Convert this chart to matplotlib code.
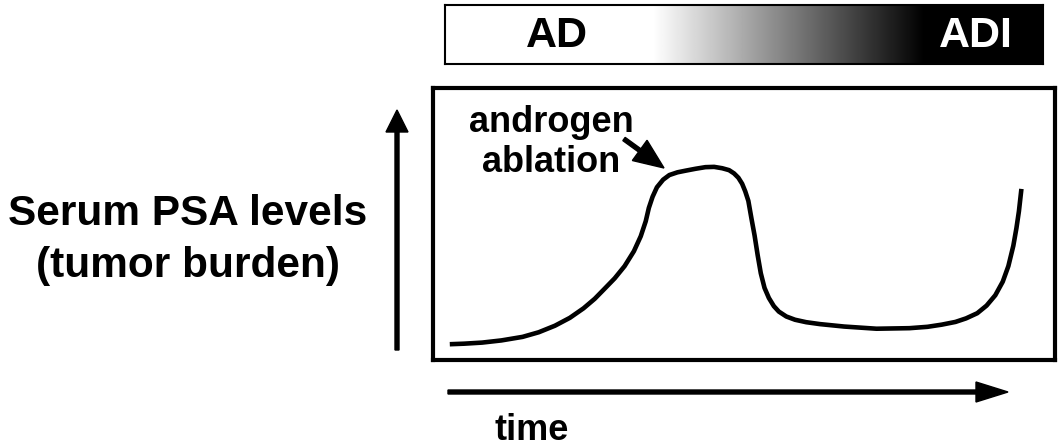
import numpy as np
import matplotlib
matplotlib.use("Agg")
import matplotlib.pyplot as plt

plt.rcParams["font.family"] = ["Liberation Sans", "DejaVu Sans"]
plt.rcParams["font.weight"] = "bold"

# curve: time (0-100 across the box) vs PSA level (0-100)
time_pts = [2.7, 5.0, 7.9, 11.0, 14.4, 17.0, 19.6, 22.0, 24.2, 26.0, 27.5,
            29.2, 30.8, 32.3, 33.4, 34.2, 34.7, 35.3, 36.0, 37.0, 38.0, 39.3,
            40.6, 42.2, 43.8, 45.2, 46.5, 47.6, 48.4, 49.1, 49.7, 50.2, 50.7,
            51.2, 51.7, 52.2, 52.7, 53.3, 54.0, 54.8, 55.6, 56.8, 58.2, 60.0,
            62.2, 66.1, 71.3, 76.6, 79.5, 81.8, 84.0, 85.7, 87.5, 89.0, 90.4,
            91.6, 92.5, 93.3, 93.8, 94.2, 94.6]
psa_pts = [5.8, 6.0, 6.4, 7.2, 8.5, 10.2, 12.6, 15.5, 19.0, 22.5, 26.0,
           30.0, 34.5, 40.0, 45.5, 51.0, 55.9, 60.0, 63.5, 66.3, 68.0, 69.0,
           69.6, 70.3, 70.9, 71.0, 70.5, 69.8, 68.6, 67.0, 64.8, 62.0, 58.5,
           52.0, 45.8, 38.5, 31.9, 26.5, 22.8, 19.8, 17.8, 16.0, 14.8, 13.9,
           13.2, 12.3, 11.5, 11.7, 12.2, 13.0, 14.0, 15.3, 17.2, 20.0, 23.8,
           28.8, 34.5, 42.0, 48.5, 54.7, 62.9]

stages = ["AD", "ADI"]
stage_pos = [0.187, 0.888]
stage_colors = ["black", "white"]
grad_start, grad_end = 0.348, 0.803

W, H = 1060, 448
fig = plt.figure(figsize=(W / 100, H / 100), dpi=100)


def axes_px(x0, y0, x1, y1):
    return fig.add_axes([x0 / W, 1 - y1 / H, (x1 - x0) / W, (y1 - y0) / H])


# AD -> ADI bar
bar = axes_px(445, 5, 1043, 64)
xs = np.linspace(0, 1, 600)
grad = np.clip((xs - grad_start) / (grad_end - grad_start), 0, 1)
bar.imshow(grad[None, :], cmap="gray_r", vmin=0, vmax=1, aspect="auto",
           extent=[0, 1, 0, 1], interpolation="bilinear")
bar.set_xlim(0, 1)
bar.set_ylim(0, 1)
bar.set_xticks([])
bar.set_yticks([])
for s in bar.spines.values():
    s.set_linewidth(1.5)
for name, pos, c in zip(stages, stage_pos, stage_colors):
    bar.text(pos, 0.47, name, color=c, fontsize=31, fontweight="bold",
             ha="center", va="center")

# main box with the PSA curve
ax = axes_px(433, 88, 1055, 360)
ax.plot(time_pts, psa_pts, color="black", lw=3.3, solid_joinstyle="round",
        solid_capstyle="butt")
ax.set_xlim(0, 100)
ax.set_ylim(0, 100)
ax.set_xticks([])
ax.set_yticks([])
for s in ax.spines.values():
    s.set_linewidth(3)

ax.text(19.0, 80, "androgen\nablation", fontsize=26, fontweight="bold",
        ha="center", va="center", linespacing=1.2)

# overlay in pixel units for arrows and labels, drawn on top
over = fig.add_axes([0, 0, 1, 1])
over.set_xlim(0, W)
over.set_ylim(H, 0)
over.axis("off")
over.set_zorder(10)

over.arrow(397, 350, 0, -240, width=4, head_width=22, head_length=22,
           length_includes_head=True, color="black")
over.arrow(448, 392, 560, 0, width=4, head_width=20, head_length=32,
           length_includes_head=True, color="black")
over.arrow(624, 139, 40, 29, width=4, head_width=25, head_length=30,
           length_includes_head=True, color="black")

over.text(188, 240, "Serum PSA levels\n(tumor burden)", fontsize=30.5,
          fontweight="bold", ha="center", va="center", linespacing=1.4)
over.text(532, 430, "time", fontsize=26, fontweight="bold",
          ha="center", va="center")

fig.savefig("out.png", dpi=100)
